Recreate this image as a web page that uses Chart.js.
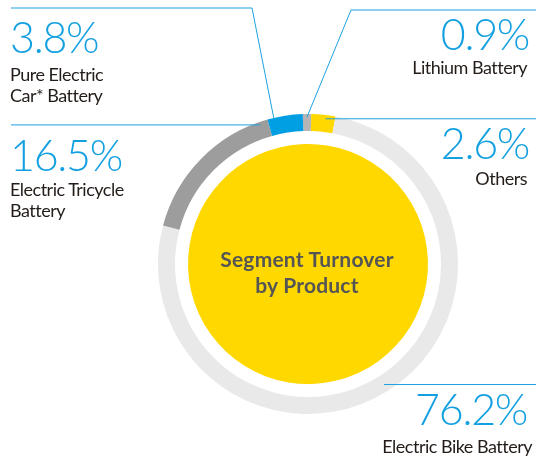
<!DOCTYPE html>
<html>
<head>
<meta charset="utf-8">
<script src="https://cdn.jsdelivr.net/npm/chart.js@4/dist/chart.umd.min.js"></script>
<style>
  html, body { margin: 0; padding: 0; background: #fff; }
  #wrap { position: relative; width: 536px; height: 463px; overflow: hidden; }
  #c { position: absolute; left: 0; top: 0; }
  .pct { position: absolute; font-family: Lato, sans-serif; font-weight: 300; font-size: 43px; line-height: 43px; color: #13a0e1; white-space: nowrap; letter-spacing: -1.3px; }
  .lab { position: absolute; font-family: Lato, sans-serif; font-weight: 400; font-size: 18px; line-height: 21px; color: #231c19; white-space: nowrap; letter-spacing: -0.5px; }
  .r { text-align: right; }
  #center { position: absolute; left: 207px; width: 200px; top: 246px; text-align: center; font-family: Lato, sans-serif; font-weight: 700; font-size: 21px; line-height: 26px; color: #555555; letter-spacing: 0.2px; }
</style>
</head>
<body>
<div id="wrap">
  <canvas id="c" width="536" height="463"></canvas>
  <div class="pct" id="p0" style="left:10px; top:15px;"></div>
  <div class="lab" id="l0" style="left:10px; top:64px;"></div>
  <div class="pct r" id="p1" style="right:7px; top:12px;"></div>
  <div class="lab r" id="l1" style="right:9px; top:57px;"></div>
  <div class="pct" id="p2" style="left:10px; top:133px;"></div>
  <div class="lab" id="l2" style="left:10px; top:179px;"></div>
  <div class="pct r" id="p3" style="right:7px; top:121px;"></div>
  <div class="lab r" id="l3" style="right:9px; top:168px;"></div>
  <div class="pct r" id="p4" style="right:9px; top:387px;"></div>
  <div class="lab r" id="l4" style="right:4px; top:436px;"></div>
  <div id="center"></div>
</div>
<script>
// Data (clockwise from the top)
const categories = ["Lithium Battery", "Others", "Electric Bike Battery", "Electric Tricycle Battery", "Pure Electric Car* Battery"];
const shares = [0.9, 2.6, 76.2, 16.5, 3.8];
const sliceColors = ["#b5b5b5", "#ffd800", "#e9e9e9", "#9d9d9d", "#009fe3"];
const labelLines = {
  "Lithium Battery": ["Lithium Battery"],
  "Others": ["Others"],
  "Electric Bike Battery": ["Electric Bike Battery"],
  "Electric Tricycle Battery": ["Electric Tricycle", "Battery"],
  "Pure Electric Car* Battery": ["Pure Electric", "Car* Battery"]
};
const centerTitle = ["Segment Turnover", "by Product"];

// text boxes: id -> category
const boxOrder = ["Pure Electric Car* Battery", "Lithium Battery", "Electric Tricycle Battery", "Others", "Electric Bike Battery"];
boxOrder.forEach((cat, i) => {
  const idx = categories.indexOf(cat);
  document.getElementById('p' + i).textContent = shares[idx].toFixed(1) + '%';
  document.getElementById('l' + i).innerHTML = labelLines[cat].join('<br>');
});
document.getElementById('center').innerHTML = centerTitle.join('<br>');

// leader line definitions: fraction along arc, radial position, and routing
const leaders = [
  { cat: "Pure Electric Car* Battery", t: 0.18, rr: 0.99, via: [252, 8], endX: 11 },
  { cat: "Lithium Battery", t: 0.5, rr: 0.98, via: [351, 10], endX: 536 },
  { cat: "Others", t: 0.6, rr: 0.975, via: null, endX: 536 },
  { cat: "Electric Tricycle Battery", t: 0.946, rr: 0.98, via: null, endX: 11 },
  { cat: "Electric Bike Battery", t: 0.5, rr: 0.95, via: null, endX: 536 }
];

const leaderPlugin = {
  id: 'leaders',
  afterDatasetsDraw(chart) {
    const meta = chart.getDatasetMeta(0);
    const ctx = chart.ctx;
    ctx.save();
    ctx.strokeStyle = '#1ea1e0';
    ctx.lineWidth = 1;
    leaders.forEach(L => {
      const arc = meta.data[categories.indexOf(L.cat)];
      const a = arc.startAngle + L.t * (arc.endAngle - arc.startAngle);
      const r = arc.outerRadius * L.rr;
      const ax = arc.x + r * Math.cos(a);
      const ay = arc.y + r * Math.sin(a);
      ctx.beginPath();
      ctx.moveTo(ax, ay);
      if (L.via) {
        ctx.lineTo(L.via[0], L.via[1]);
        ctx.lineTo(L.endX, L.via[1]);
      } else {
        ctx.lineTo(L.endX, ay);
      }
      ctx.stroke();
    });
    ctx.restore();
  }
};

new Chart(document.getElementById('c'), {
  type: 'doughnut',
  data: {
    labels: categories,
    datasets: [
      { data: shares, backgroundColor: sliceColors, borderWidth: 0, weight: 17 },
      { data: [1], backgroundColor: ['rgba(0,0,0,0)'], borderWidth: 0, weight: 13 },
      { data: [1], backgroundColor: ['#ffd800'], borderWidth: 0, weight: 120 }
    ]
  },
  options: {
    responsive: false,
    animation: false,
    events: [],
    cutout: 0,
    rotation: -2,
    layout: { padding: { left: 158, right: 78, top: 114, bottom: 49 } },
    plugins: { legend: { display: false }, tooltip: { enabled: false } }
  },
  plugins: [leaderPlugin]
});
</script>
</body>
</html>
